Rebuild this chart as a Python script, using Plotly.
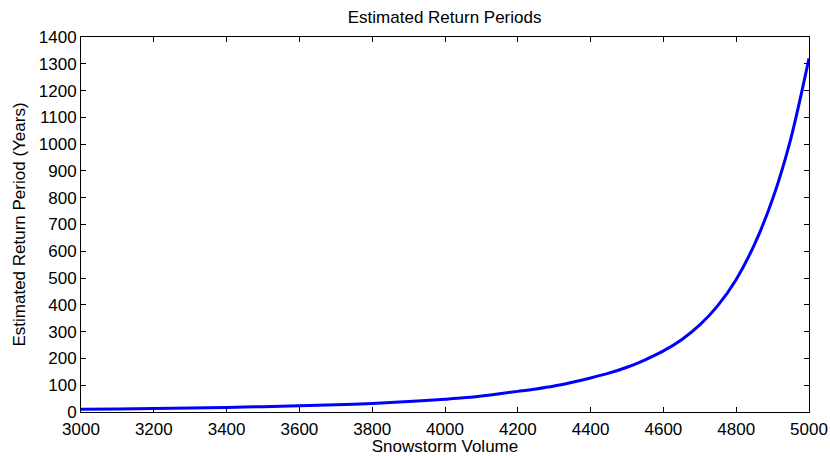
import plotly.graph_objects as go

# Snowstorm volume vs estimated return period
volume = [3000, 3100, 3200, 3300, 3400, 3500, 3600, 3700, 3800, 3900,
          4000, 4050, 4100, 4150, 4200, 4250, 4300, 4350, 4400, 4450,
          4500, 4550, 4600, 4650, 4700, 4750, 4800, 4850, 4900, 4950, 5000]
return_period = [10, 11.5, 13, 15, 17, 20, 23, 27, 32, 39,
                 48, 53, 60, 68, 77, 86, 97, 111, 127, 145,
                 167, 195, 228, 270, 325, 398, 495, 625, 795, 1020, 1320]

fig = go.Figure()
fig.add_trace(go.Scatter(
    x=volume, y=return_period,
    mode="lines",
    line=dict(color="rgb(0,0,255)", width=3, shape="spline", smoothing=0.8),
    showlegend=False,
))

axis_style = dict(
    showgrid=False, zeroline=False, automargin=False,
    showline=True, linecolor="black", linewidth=1, mirror="ticks",
    ticks="inside", ticklen=5, tickcolor="black", tickwidth=1,
    tickfont=dict(size=17, color="black"),
)

fig.update_layout(
    width=830, height=456,
    margin=dict(l=81, r=21, t=37, b=44),
    paper_bgcolor="white", plot_bgcolor="white",
    font=dict(family="Liberation Sans, Arial, sans-serif", color="black"),
    title=dict(text="Estimated Return Periods", x=0.5357, xanchor="center",
               y=1 - 17 / 456, yanchor="middle", font=dict(size=17)),
    xaxis=dict(range=[3000, 5000], dtick=200, ticklabelstandoff=2,
               title=dict(text="Snowstorm Volume", font=dict(size=17), standoff=5),
               **axis_style),
    yaxis=dict(range=[0, 1400], dtick=100,
               title=dict(text="Estimated Return Period (Years)", font=dict(size=17), standoff=8),
               **axis_style),
)

# drop the default page margin so the figure fills the window exactly
fig.write_html("out.html", config={"displayModeBar": False},
               post_script="document.body.style.margin='0';document.body.style.overflow='hidden';")
